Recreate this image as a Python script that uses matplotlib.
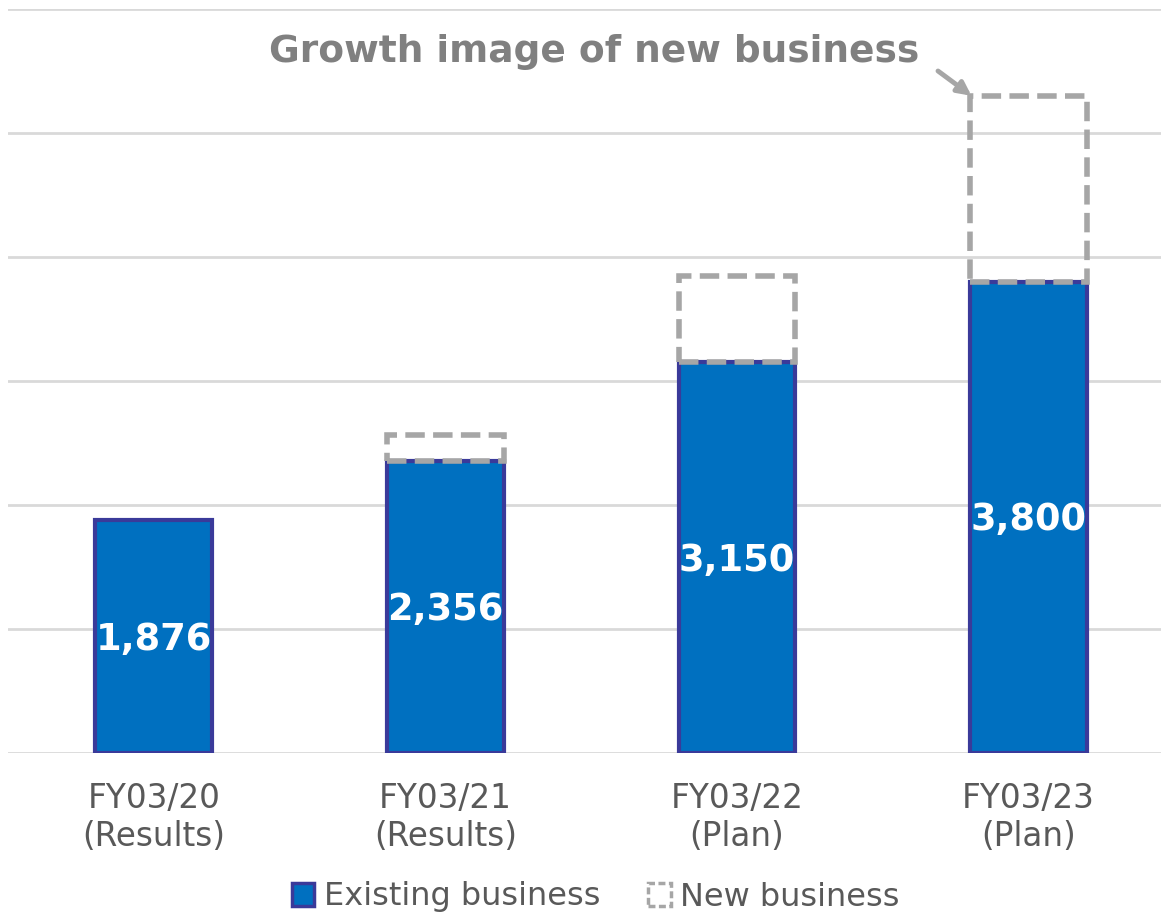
import numpy as np
import matplotlib as mpl
import matplotlib.pyplot as plt
from matplotlib import patches

mpl.rc('font', family='DejaVu Sans')

# --- data ---
categories = ['FY03/20\n(Results)', 'FY03/21\n(Results)', 'FY03/22\n(Plan)', 'FY03/23\n(Plan)']
existing = [1876, 2356, 3150, 3800]
new_biz = [0, 210, 700, 1500]   # illustrative growth on top of existing
labels = ['1,876', '2,356', '3,150', '3,800']

blue = '#0070C0'
edge = '#3A3A9A'
grey = '#A6A6A6'
txt = '#595959'

fig = plt.figure(figsize=(11.61, 9.14), dpi=100)
ax = fig.add_axes([8/1161, 161/914, 1153/1161, 744/914])

x = np.arange(len(categories))
w = 0.4

# existing business bars
ax.bar(x, existing, width=w, color=blue, edgecolor=edge, linewidth=3, zorder=3)

# new business as dashed outline stacked on top
for xi, base, h in zip(x, existing, new_biz):
    if h <= 0:
        continue
    r = patches.Rectangle((xi - w/2, base), w, h, fill=False, edgecolor=grey,
                          linewidth=4, linestyle=(0, (3.5, 1.5)), zorder=4)
    ax.add_patch(r)

for xi, v, s in zip(x, existing, labels):
    ax.text(xi, v/2 - 20, s, ha='center', va='center', color='white',
            fontsize=26.5, fontweight='bold', zorder=5)

ax.set_xlim(-0.5, 3.455)
ax.set_ylim(0, 6000)
ax.set_yticks(np.arange(0, 6001, 1000))
ax.yaxis.grid(True, color='#D9D9D9', linewidth=2)
ax.set_axisbelow(True)
ax.tick_params(axis='y', left=False, labelleft=False)
ax.tick_params(axis='x', length=0, pad=21, labelsize=23.5, labelcolor=txt)
ax.set_xticks(x)
ax.set_xticklabels(categories, linespacing=1.2)
for s in ax.spines.values():
    s.set_visible(False)

# annotation pointing at the plan year's new business block
fig.text(594/1161, 1 - 52/914, 'Growth image of new business', ha='center', va='center',
         color='#808080', fontsize=27, fontweight='bold')
ax.annotate('', xy=(3 - w/2 + 0.005, existing[3] + new_biz[3]),
            xytext=(938/1161, 1 - 71/914), textcoords='figure fraction',
            arrowprops=dict(arrowstyle='-|>', color=grey, lw=3.5, mutation_scale=20,
                            shrinkA=0, shrinkB=0))

# legend
h1 = patches.Patch(facecolor=blue, edgecolor=edge, linewidth=2.5)
h2 = patches.Patch(facecolor='white', edgecolor=grey, linewidth=2.5, linestyle=(0, (2, 1)))
fig.legend([h1, h2], ['Existing business', 'New business'], loc='center',
           bbox_to_anchor=(596/1161, 1 - 897/914), ncol=2, frameon=False,
           fontsize=23, labelcolor=txt, handlelength=0.7, handleheight=0.7,
           handletextpad=0.3, columnspacing=1.5)

fig.savefig('out.png', dpi=100)
